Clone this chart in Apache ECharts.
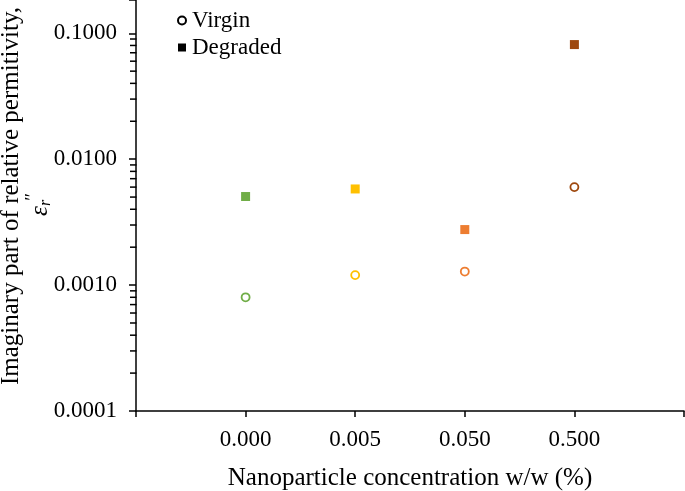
<!DOCTYPE html>
<html>
<head>
<meta charset="utf-8">
<script src="https://cdn.jsdelivr.net/npm/echarts@6/dist/echarts.min.js"></script>
<style>
  html, body { margin: 0; padding: 0; background: #fff; }
  #main { width: 685px; height: 491px; }
</style>
</head>
<body>
<div id="main"></div>
<script>
var categories = ["0.000", "0.005", "0.050", "0.500"];
var virgin = [0.0008, 0.0012, 0.00128, 0.006];
var degraded = [0.00505, 0.0058, 0.00276, 0.0813];
var yTicks = [0.0001, 0.001, 0.01, 0.1];
var pointColors = ["#70AD47", "#FFC000", "#ED7D31", "#9E480E"];

var font = "Liberation Serif";
var yMin = 0.0001, yMax = 0.1837;

// minor log ticks 2..9 in each decade
var yMinor = [];
yTicks.forEach(function (t) {
  for (var m = 2; m <= 9; m++) {
    if (t * m <= yMax) yMinor.push(t * m);
  }
});

var myChart = echarts.init(document.getElementById("main"), null, { renderer: "canvas" });

var option = {
  animation: false,
  textStyle: { fontFamily: font, color: "#000" },
  grid: { left: 136, right: 1, top: 0, bottom: 80, outerBoundsMode: "none", containLabel: false },
  legend: {
    orient: "vertical",
    left: 172,
    top: 4,
    itemWidth: 8,
    itemHeight: 8,
    itemGap: 4,
    textStyle: { fontFamily: font, fontSize: 23, color: "#000", padding: [0, 0, 0, 1] },
    data: [
      { name: "Virgin", icon: "circle" },
      { name: "Degraded", icon: "rect" }
    ]
  },
  xAxis: {
    type: "value",
    min: 0,
    max: categories.length + 1,
    interval: 1,
    splitLine: { show: false },
    axisLine: { lineStyle: { color: "#000", width: 1.5 } },
    axisTick: { show: true, inside: false, length: 6, lineStyle: { color: "#000", width: 1.5 } },
    axisLabel: {
      margin: 17,
      fontSize: 23,
      color: "#000",
      fontFamily: font,
      formatter: function (v) {
        return categories[v - 1] || "";
      }
    },
    name: "Nanoparticle concentration w/w (%)",
    nameLocation: "middle",
    nameGap: 55,
    nameTextStyle: { fontFamily: font, fontSize: 25, color: "#000" }
  },
  yAxis: {
    type: "log",
    min: yMin,
    max: yMax,
    splitLine: { show: false },
    axisLine: { show: true, lineStyle: { color: "#000", width: 1.5 } },
    axisTick: { show: true, length: 7, lineStyle: { color: "#000", width: 1.5 } },
    axisLabel: {
      margin: 19,
      fontSize: 23,
      color: "#000",
      fontFamily: font,
      formatter: function (v) {
        var e = Math.log10(v);
        return Math.abs(e - Math.round(e)) < 1e-6 ? v.toFixed(4) : "";
      }
    }
  },
  graphic: [
    {
      type: "text",
      x: 11,
      y: 196,
      rotation: Math.PI / 2,
      style: {
        text: "Imaginary part of relative permitivity,",
        font: "25px " + font,
        fill: "#000",
        align: "center",
        verticalAlign: "middle"
      }
    },
    {
      type: "text",
      x: 40,
      y: 211,
      rotation: Math.PI / 2,
      style: { text: "ε", font: "italic 25px " + font, fill: "#000", align: "center", verticalAlign: "middle" }
    },
    {
      type: "text",
      x: 46,
      y: 203,
      rotation: Math.PI / 2,
      style: { text: "r", font: "italic 16px " + font, fill: "#000", align: "center", verticalAlign: "middle" }
    },
    {
      type: "text",
      x: 33,
      y: 198,
      rotation: Math.PI / 2,
      style: { text: "\u2033", font: "italic 18px " + font, fill: "#000", align: "center", verticalAlign: "middle" }
    }
  ],
  series: [
    {
      // minor ticks on the log y axis, placed through the axis scale
      type: "custom",
      silent: true,
      clip: false,
      z: 10,
      data: yMinor.map(function (v) { return [0, v]; }),
      renderItem: function (params, api) {
        var p = api.coord([0, api.value(1)]);
        return {
          type: "rect",
          shape: { x: p[0] - 6, y: p[1] - 0.75, width: 6.5, height: 1.5 },
          style: { fill: "#000" }
        };
      }
    },
    {
      name: "Virgin",
      type: "scatter",
      symbol: "circle",
      symbolSize: 8,
      itemStyle: { color: "#fff", borderColor: "#000", borderWidth: 1.8, opacity: 1 },
      data: virgin.map(function (v, i) {
        return { value: [i + 1, v], itemStyle: { borderColor: pointColors[i] } };
      })
    },
    {
      name: "Degraded",
      type: "scatter",
      symbol: "rect",
      symbolSize: 9,
      itemStyle: { color: "#000", opacity: 1 },
      data: degraded.map(function (v, i) {
        return { value: [i + 1, v], itemStyle: { color: pointColors[i] } };
      })
    }
  ]
};

if (option && typeof option === "object") {
  myChart.setOption(option);
}

window.addEventListener("resize", myChart.resize);
</script>
</body>
</html>
